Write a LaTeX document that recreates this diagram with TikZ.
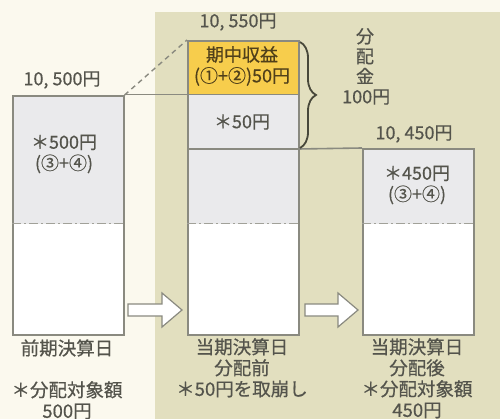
\documentclass[tikz,border=0pt]{standalone}
\usepackage{fontspec}
\setmainfont{Noto Sans CJK JP}[FakeBold=0.5]
\usetikzlibrary{decorations.pathreplacing}
\definecolor{cream}{RGB}{251,249,238}
\definecolor{khaki}{RGB}{226,223,191}
\definecolor{boxgray}{RGB}{234,234,236}
\definecolor{boxline}{RGB}{138,138,128}
\definecolor{gold}{RGB}{247,205,76}
\definecolor{txt}{RGB}{84,84,76}
\definecolor{goldtxt}{RGB}{80,64,26}
\definecolor{braceline}{RGB}{72,72,58}

\begin{document}
\begin{tikzpicture}[x=1pt,y=-1pt]
\tikzset{
  part/.style={inner sep=0pt, anchor=north west, minimum width=111pt},
  box/.style={part, draw=boxline, line width=1.6pt},
  lbl/.style={text=txt, inner sep=0pt, align=center, font=\fontsize{18}{21}\selectfont},
  caption/.style={lbl, anchor=north, font=\fontsize{18.5}{21}\selectfont},
  sep/.style={draw=boxline!80, line width=1pt, dash pattern=on 9pt off 3pt on 2pt off 3pt},
  blockarrow/.style={draw=boxline, fill=white, line width=1.2pt, line join=miter},
}
% background
\fill[cream] (0,0) rectangle (500,419);
\fill[khaki] (155,12) rectangle (500,419);
\useasboundingbox (0,0) rectangle (500,419);
%1 前期決算日
\node[part, fill=boxgray, minimum height=129pt] (prevtop) at (12,95) {};
\node[part, fill=white, minimum height=110pt] (prevbot) at (12,224) {};
\node[box, minimum height=239pt] (prev) at (12,95) {};
\draw[sep] (prevbot.north west) -- (prevbot.north east);
\node[lbl] (prevval) at (62,80) {10, 500円};
\node[lbl] (prevamt) at (64,154) {＊500円\\(③+④)};
%2 当期決算日 分配前
\node[part, fill=gold, minimum height=55pt] (inc) at (187,40) {};
\node[part, fill=boxgray, minimum height=54pt] (rev) at (187,95) {};
\node[part, fill=boxgray, minimum height=75pt] (curtop) at (187,149) {};
\node[part, fill=white, minimum height=110pt] (curbot) at (187,224) {};
\node[box, minimum height=294pt] (cur) at (187,40) {};
\draw[boxline, line width=1pt] (rev.north west) -- (rev.north east);
\draw[boxline, line width=1.6pt] (curtop.north east) -- (curtop.north west);
\draw[sep] (curbot.north west) -- (curbot.north east);
\node[lbl] (curval) at (238,22) {10, 550円};
\node[lbl, text=goldtxt] (incamt) at (242,66) {期中収益\\(①+②)50円};
\node[lbl] (revamt) at (242,122) {＊50円};
%3 当期決算日 分配後
\node[part, fill=boxgray, minimum height=76pt] (posttop) at (362,148) {};
\node[part, fill=white, minimum height=110pt] (postbot) at (362,224) {};
\node[box, minimum height=186pt] (post) at (362,148) {};
\draw[sep] (postbot.north west) -- (postbot.north east);
\node[lbl] (postval) at (414,134) {10, 450円};
\node[lbl] (postamt) at (417,185) {＊450円\\(③+④)};
% connectors
\draw[boxline, line width=1.4pt, dash pattern=on 5pt off 4pt] (prev.north east) -- (cur.north west);
\draw[boxline, line width=1pt] (prev.north east) -- (rev.north west);
\draw[boxline, line width=1.6pt] (curtop.north east) -- (post.north west);
% 分配金
\coordinate (bracetop) at (300,42);
\coordinate (bracebot) at (300,148);
\draw[braceline, line width=1.8pt, decorate, decoration={brace, amplitude=16pt}] (bracetop) -- (bracebot);
\node[lbl, font=\fontsize{18}{20}\selectfont] (divlbl) at (365,56) {分\\配\\金};
\node[lbl, anchor=west] (divamt) at (342,97) {100円};
% arrows
\draw[blockarrow, shift={(128,310)}] (0,-6) -- (34,-6) -- (34,-17) -- (54,0) -- (34,17) -- (34,6) -- (0,6) -- cycle;
\draw[blockarrow, shift={(305,310)}] (0,-6) -- (33,-6) -- (33,-17) -- (53,0) -- (33,17) -- (33,6) -- (0,6) -- cycle;
% captions
\node[lbl, font=\fontsize{18.5}{21}\selectfont] (prevcap) at (67,348) {前期決算日};
\node[caption] (prevnote) at (67,381) {＊分配対象額\\500円};
\node[caption] (curcap) at (242,338) {当期決算日\\分配前\\＊50円を取崩し};
\node[caption] (postcap) at (417,338) {当期決算日\\分配後\\＊分配対象額\\450円};
\end{tikzpicture}
\end{document}
